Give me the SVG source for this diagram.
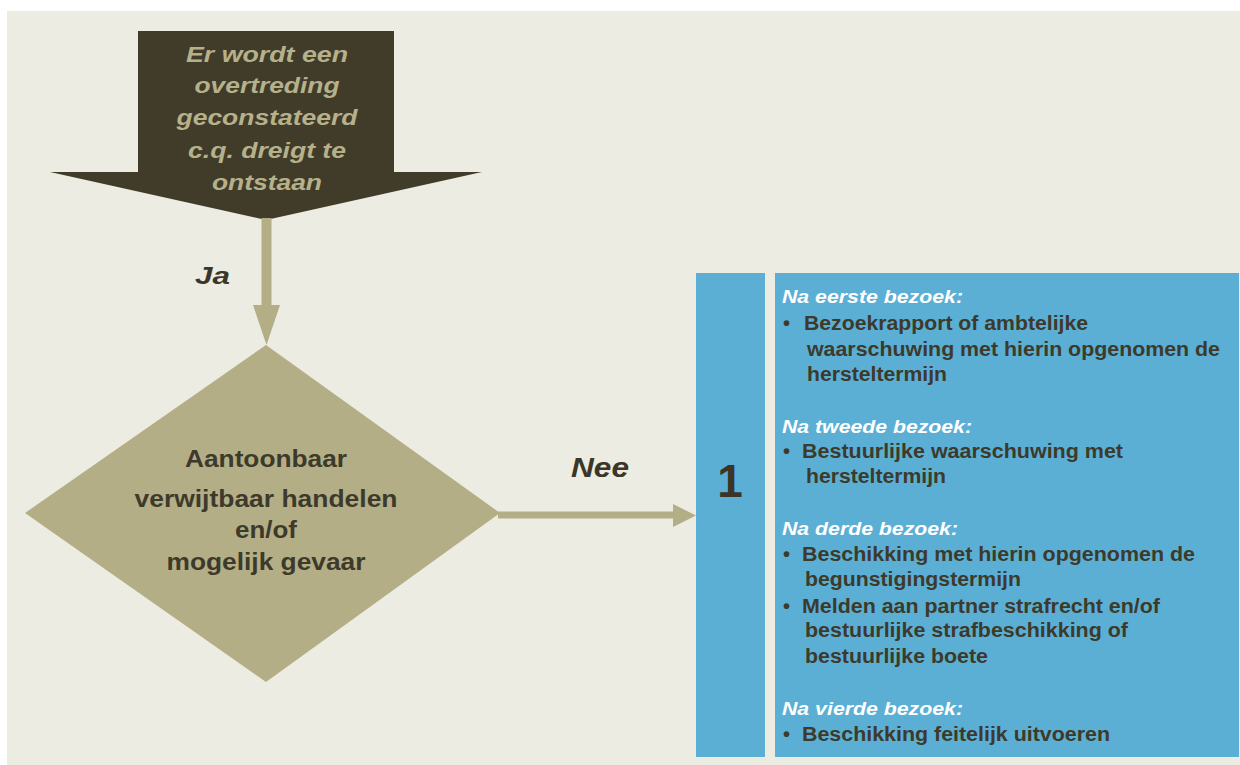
<svg xmlns="http://www.w3.org/2000/svg" width="1240" height="765" viewBox="0 0 1240 765">
<style>
.bg{fill:#EDECE3}
.dark{fill:#403C29}
.tan{fill:#B3AE86}
.blue{fill:#5BAFD5}
.t{font-family:"Liberation Sans",Arial,sans-serif;font-weight:bold}
.arrowtxt{fill:#B6B18B;font-style:italic;font-size:22px;text-anchor:middle}
.lbl{fill:#3A3628;font-style:italic}
.dtxt{fill:#3D3A2B;font-size:23px;text-anchor:middle}
.head{fill:#FFFFFF;font-style:italic;font-size:18px}
.body{fill:#3D3A2B;font-size:20px}
.num{fill:#3A3526;font-size:46px;text-anchor:middle}
.line{stroke:#B3AE86;fill:none}
</style>
<rect x="0" y="0" width="1240" height="765" fill="#FFFFFF"/>
<rect class="bg" x="7" y="11" width="1233" height="754"/>

<g id="start">
<polygon class="dark" points="138,31 394,31 394,172 482,172 266,220 50,172 138,172"/>
<text class="t arrowtxt" x="267" y="62" textLength="162" lengthAdjust="spacingAndGlyphs">Er wordt een</text>
<text class="t arrowtxt" x="267" y="93" textLength="145" lengthAdjust="spacingAndGlyphs">overtreding</text>
<text class="t arrowtxt" x="267" y="125" textLength="181" lengthAdjust="spacingAndGlyphs">geconstateerd</text>
<text class="t arrowtxt" x="267" y="158" textLength="158" lengthAdjust="spacingAndGlyphs">c.q. dreigt te</text>
<text class="t arrowtxt" x="267" y="190" textLength="110" lengthAdjust="spacingAndGlyphs">ontstaan</text>
</g>

<g id="connectors">
<line class="line" x1="266.5" y1="218" x2="266.5" y2="306" stroke-width="10"/>
<polygon class="tan" points="253,305 280,305 266.5,345"/>
<text class="t lbl" x="195" y="284" font-size="24" textLength="35" lengthAdjust="spacingAndGlyphs">Ja</text>
<line class="line" x1="498" y1="515" x2="674" y2="515" stroke-width="7"/>
<polygon class="tan" points="673,504 673,527 696,515.5"/>
<text class="t lbl" x="571" y="477" font-size="27" textLength="58" lengthAdjust="spacingAndGlyphs">Nee</text>
</g>

<g id="decision">
<polygon class="tan" points="266,345 500,513 266,682 25,513"/>
<text class="t dtxt" x="266" y="467" textLength="162" lengthAdjust="spacingAndGlyphs">Aantoonbaar</text>
<text class="t dtxt" x="266" y="507" textLength="263" lengthAdjust="spacingAndGlyphs">verwijtbaar handelen</text>
<text class="t dtxt" x="266" y="538" textLength="62" lengthAdjust="spacingAndGlyphs">en/of</text>
<text class="t dtxt" x="266" y="570" textLength="199" lengthAdjust="spacingAndGlyphs">mogelijk gevaar</text>
</g>

<g id="step1-number">
<rect class="blue" x="696" y="273" width="69" height="484"/>
<text class="t num" x="730" y="497">1</text>
</g>

<g id="step1-actions">
<rect class="blue" x="775" y="273" width="464" height="484"/>
<text class="t head" x="782" y="303" textLength="181" lengthAdjust="spacingAndGlyphs">Na eerste bezoek:</text>
<text class="t body" x="783" y="330">•</text>
<text class="t body" x="804" y="330" textLength="284" lengthAdjust="spacingAndGlyphs">Bezoekrapport of ambtelijke</text>
<text class="t body" x="807" y="356" textLength="413" lengthAdjust="spacingAndGlyphs">waarschuwing met hierin opgenomen de</text>
<text class="t body" x="807" y="381" textLength="140" lengthAdjust="spacingAndGlyphs">hersteltermijn</text>

<text class="t head" x="782" y="433" textLength="190" lengthAdjust="spacingAndGlyphs">Na tweede bezoek:</text>
<text class="t body" x="783" y="458">•</text>
<text class="t body" x="802" y="458" textLength="321" lengthAdjust="spacingAndGlyphs">Bestuurlijke waarschuwing met</text>
<text class="t body" x="806" y="483" textLength="140" lengthAdjust="spacingAndGlyphs">hersteltermijn</text>

<text class="t head" x="782" y="535" textLength="176" lengthAdjust="spacingAndGlyphs">Na derde bezoek:</text>
<text class="t body" x="783" y="561">•</text>
<text class="t body" x="802" y="561" textLength="393" lengthAdjust="spacingAndGlyphs">Beschikking met hierin opgenomen de</text>
<text class="t body" x="805" y="586" textLength="216" lengthAdjust="spacingAndGlyphs">begunstigingstermijn</text>
<text class="t body" x="783" y="613">•</text>
<text class="t body" x="802" y="613" textLength="358" lengthAdjust="spacingAndGlyphs">Melden aan partner strafrecht en/of</text>
<text class="t body" x="805" y="637" textLength="323" lengthAdjust="spacingAndGlyphs">bestuurlijke strafbeschikking of</text>
<text class="t body" x="805" y="663" textLength="183" lengthAdjust="spacingAndGlyphs">bestuurlijke boete</text>

<text class="t head" x="782" y="715" textLength="181" lengthAdjust="spacingAndGlyphs">Na vierde bezoek:</text>
<text class="t body" x="783" y="741">•</text>
<text class="t body" x="802" y="741" textLength="308" lengthAdjust="spacingAndGlyphs">Beschikking feitelijk uitvoeren</text>
</g>
</svg>
